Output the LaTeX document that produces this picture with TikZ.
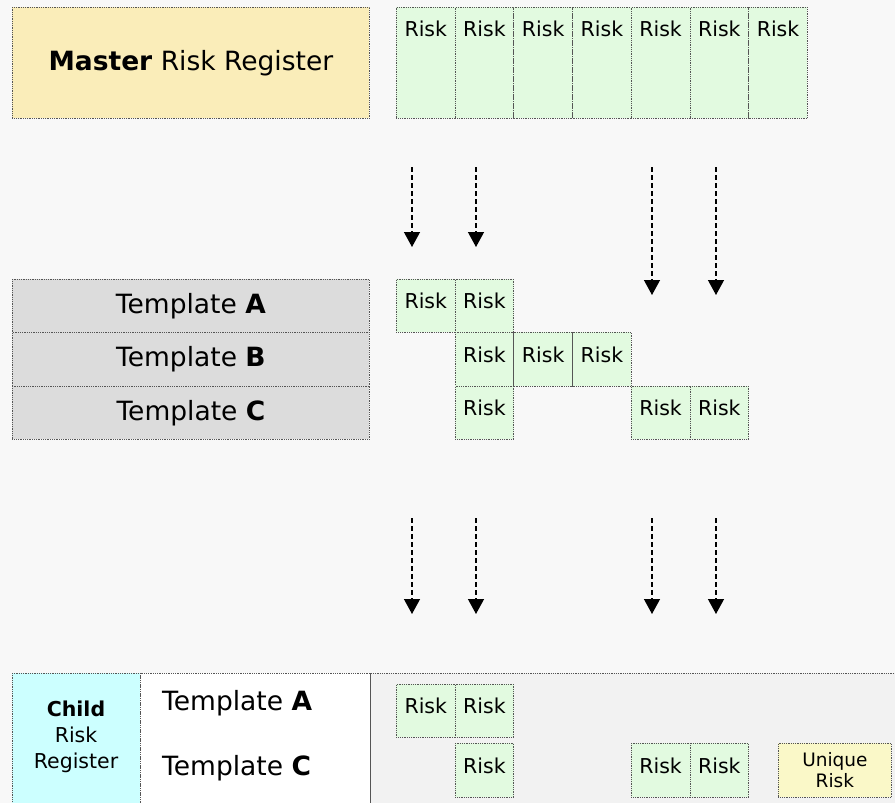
\documentclass[tikz,border=0pt]{standalone}
\usepackage{fontspec}
\setmainfont{DejaVu Sans}
\usetikzlibrary{arrows.meta}
\definecolor{bgback}{HTML}{F8F8F8}
\definecolor{dotline}{HTML}{555555}
\definecolor{mastery}{HTML}{FAEDB9}
\definecolor{riskgreen}{HTML}{E2FAE0}
\definecolor{tplgray}{HTML}{DCDCDC}
\definecolor{childcyan}{HTML}{CCFFFF}
\definecolor{localgray}{HTML}{F2F2F2}
\definecolor{uniquey}{HTML}{FAF8C8}

\begin{document}
\begin{tikzpicture}[x=1pt,y=-1pt,
    box/.style={draw=dotline, densely dotted, line width=0.8pt, inner sep=0pt},
    risk/.style={box, fill=riskgreen, minimum width=58.71pt, minimum height=53pt,
      text height=15pt, text depth=9.6pt, font=\fontsize{20.5}{20.5}\selectfont},
    tpl/.style={box, fill=tplgray, minimum width=357pt, anchor=north west,
      font=\fontsize{26.5}{26.5}\selectfont},
    feed/.style={-{Triangle[width=16pt,length=15pt]}, dash pattern=on 5pt off 3pt,
      line width=1.3pt}]
  \path[use as bounding box, fill=bgback] (0,0) rectangle (895,803);

  % master register
  \node[box, fill=mastery, minimum width=357pt, minimum height=111pt, anchor=north west,
    font=\fontsize{26.5}{26.5}\selectfont] (master) at (12,7) {\textbf{Master} Risk Register};
  \foreach \i in {1,...,7}
    \node[risk, minimum height=111pt, text depth=67.6pt, anchor=north west] (m\i)
      at ({396+(\i-1)*58.71},7) {Risk};

  % templates
  \node[tpl, minimum height=53pt] (tA) at (12,279) {Template \textbf{A}};
  \node[tpl, minimum height=54pt] (tB) at (12,332) {Template \textbf{B}};
  \node[tpl, minimum height=53pt] (tC) at (12,386) {Template \textbf{C}};
  \foreach \c/\name in {1/a1,2/a2}
    \node[risk, anchor=north west] (\name) at ({396+(\c-1)*58.71},279) {Risk};
  \foreach \c/\name in {2/b1,3/b2,4/b3}
    \node[risk, minimum height=54pt, anchor=north west] (\name) at ({396+(\c-1)*58.71},332) {Risk};
  \foreach \c/\name in {2/c1,5/c2,6/c3}
    \node[risk, anchor=north west] (\name) at ({396+(\c-1)*58.71},386) {Risk};

  % child register
  \draw[box, fill=localgray] (370,673) rectangle (900,810);
  \draw[box, fill=white] (140,673) rectangle (370,810);
  \draw[box, fill=childcyan] (12,673) rectangle (140,810);
  \node[align=center, font=\fontsize{20.5}{26}\selectfont] (child) at (76,737)
    {\textbf{Child}\\Risk\\Register};
  \node[anchor=base west, inner sep=0pt, font=\fontsize{26.5}{26.5}\selectfont] (kA) at (162,710) {Template \textbf{A}};
  \node[anchor=base west, inner sep=0pt, font=\fontsize{26.5}{26.5}\selectfont] (kC) at (162,775) {Template \textbf{C}};
  \foreach \c/\name in {1/d1,2/d2}
    \node[risk, anchor=north west] (\name) at ({396+(\c-1)*58.71},684) {Risk};
  \foreach \c/\name in {2/e1,5/e2,6/e3}
    \node[risk, minimum height=54pt, anchor=north west] (\name) at ({396+(\c-1)*58.71},743) {Risk};
  \node[box, fill=uniquey, minimum width=113pt, minimum height=54pt, anchor=north west,
    align=center, font=\fontsize{18.5}{21}\selectfont] (uniq) at (778,743) {Unique\\Risk};

  % arrows
  \foreach \x/\e [count=\n] in {412/247,476/247,652/295,716/295} {
    \coordinate (top\n) at (\x,167);
    \coordinate (mid\n) at (\x,\e);
    \draw[feed] (top\n) -- (mid\n);
  }
  \foreach \x [count=\n] in {412,476,652,716} {
    \coordinate (low\n) at (\x,518);
    \coordinate (end\n) at (\x,614);
    \draw[feed] (low\n) -- (end\n);
  }
\end{tikzpicture}
\end{document}
